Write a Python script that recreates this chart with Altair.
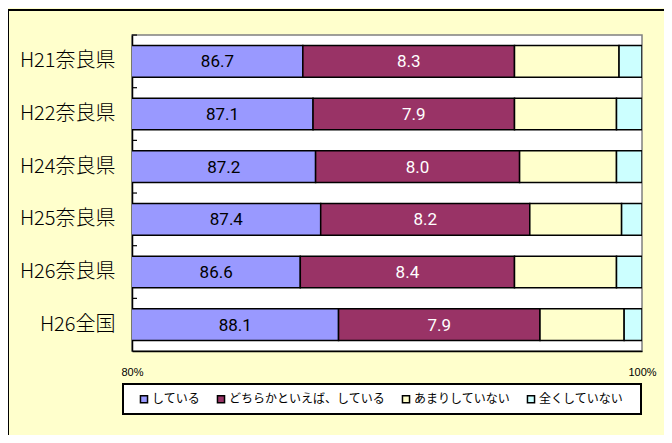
import altair as alt
import pandas as pd

categories = ["H21奈良県", "H22奈良県", "H24奈良県", "H25奈良県", "H26奈良県", "H26全国"]
responses = ["している", "どちらかといえば、している", "あまりしていない", "全くしていない"]
colors = ["#9999FF", "#993366", "#FFFFCC", "#CCFFFF"]

doing = [86.7, 87.1, 87.2, 87.4, 86.6, 88.1]
rather_doing = [8.3, 7.9, 8.0, 8.2, 8.4, 7.9]
rarely = [4.1, 4.0, 3.8, 3.6, 4.0, 3.3]
never = [0.9, 1.0, 1.0, 0.8, 1.0, 0.7]

x_ticks = [80, 100]
XMIN, XMAX = 80, 100

series = [doing, rather_doing, rarely, never]
rows = []
for ri, (resp, vals) in enumerate(zip(responses, series)):
    for cat, v in zip(categories, vals):
        rows.append({"cat": cat, "resp": resp, "value": v, "ord": ri + 1})
df = pd.DataFrame(rows)

JP = "Noto Sans CJK JP"

y_enc = alt.Y(
    "cat:N",
    sort=categories,
    scale=alt.Scale(paddingInner=0.4, paddingOuter=0.2),
    axis=alt.Axis(
        title=None, ticks=False, labelPadding=17, labelFontSize=20, labelFont=JP,
        labelFontWeight=300, labelColor="black", domainColor="black", domainWidth=1.5,
    ),
)

bars = alt.Chart(df).mark_bar(clip=True, stroke="black", strokeWidth=1.5).encode(
    x=alt.X(
        "value:Q",
        stack="zero",
        scale=alt.Scale(domain=[XMIN, XMAX], nice=False),
        axis=alt.Axis(
            title=None, values=x_ticks, ticks=False, grid=False, labelPadding=15,
            labelFontSize=11, labelFont="Liberation Sans", labelColor="black",
            labelFlush=False, labelExpr="datum.value + '%'", domainColor="black",
            domainWidth=1.5,
        ),
    ),
    y=y_enc,
    color=alt.Color(
        "resp:N",
        sort=responses,
        scale=alt.Scale(domain=responses, range=colors),
        legend=alt.Legend(
            title=None, orient="none", legendX=6, legendY=358, direction="horizontal",
            columns=4, symbolType="square", symbolSize=50, symbolStrokeColor="black",
            symbolStrokeWidth=1.5, labelFontSize=12, labelFont=JP, labelColor="black",
            labelOffset=2, columnPadding=13, padding=0, labelLimit=400,
        ),
    ),
    order=alt.Order("ord:Q"),
)

labels = (
    alt.Chart(df)
    .transform_stack(stack="value", groupby=["cat"], sort=[alt.SortField("ord")], as_=["v0", "v1"])
    .transform_calculate(mid=f"(max(datum.v0,{XMIN})+datum.v1)/2")
    .transform_filter("datum.ord <= 2")
    .mark_text(font="Roboto", fontSize=17, baseline="middle", dy=1)
    .encode(
        x=alt.X("mid:Q"),
        y=alt.Y("cat:N", sort=categories),
        text=alt.Text("value:Q", format=".1f"),
        color=alt.condition("datum.ord == 1", alt.value("black"), alt.value("white")),
    )
)

tick_df = pd.DataFrame({"cat": categories})
ticks = alt.Chart(tick_df).mark_rule(color="black", strokeWidth=1.2, yOffset=-10.5).encode(
    y=alt.Y("cat:N", sort=categories, bandPosition=0),
    x=alt.value(0),
    x2=alt.value(5),
)

one = pd.DataFrame({"a": [0]})
frame = alt.Chart(one).mark_rect(fill="#FFFFCC", fillOpacity=0, stroke="black", strokeWidth=2).encode(
    x=alt.value(-124), x2=alt.value(800), y=alt.value(-25), y2=alt.value(600)
)
legend_box = alt.Chart(one).mark_rect(fill="white", stroke="black", strokeWidth=2).encode(
    x=alt.value(-9), x2=alt.value(509), y=alt.value(349), y2=alt.value(379)
)

chart = (
    alt.layer(frame, legend_box, bars, labels, ticks)
    .properties(
        width=510,
        height=316,
        autosize=alt.AutoSizeParams(type="none"),
        padding={"left": 124, "top": 27, "right": 22, "bottom": 84},
        background="#FFFFCC",
    )
    .configure_view(fill="white", stroke="#808080", strokeWidth=1.5)
)

chart.save("out.html", embed_options={"renderer": "svg", "actions": False})
